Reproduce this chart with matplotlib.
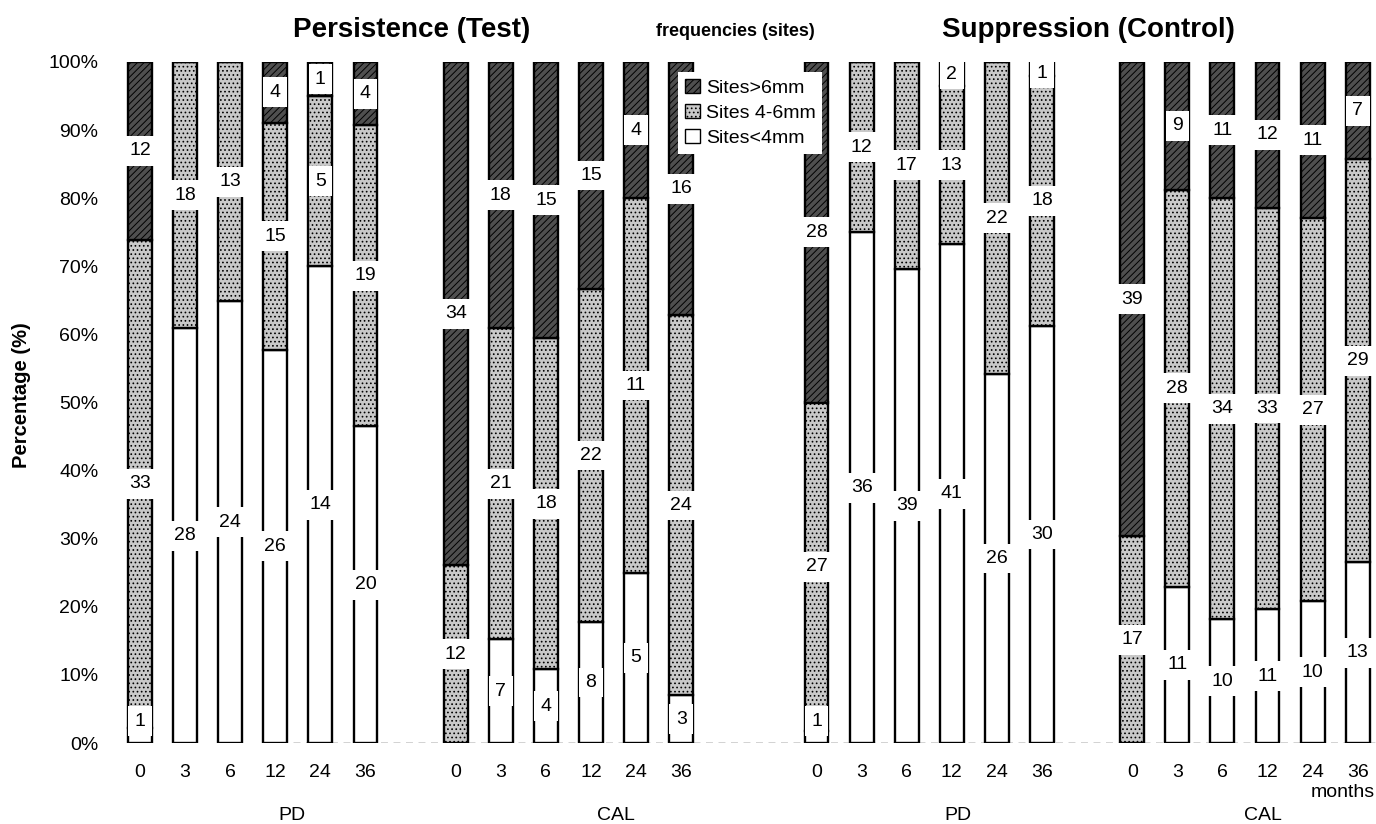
import matplotlib
matplotlib.use("Agg")
import matplotlib.pyplot as plt
import matplotlib.transforms as mtransforms
from matplotlib.patches import Patch
import numpy as np

# ---- data: number of sites per pocket-depth class at each visit (months) ----
months = ["0", "3", "6", "12", "24", "36"]
group_names = ["PD", "CAL", "PD", "CAL"]

persist_pd_lt4 = [1, 28, 24, 26, 14, 20]
persist_pd_4to6 = [33, 18, 13, 15, 5, 19]
persist_pd_gt6 = [12, 0, 0, 4, 1, 4]

persist_cal_lt4 = [0, 7, 4, 8, 5, 3]
persist_cal_4to6 = [12, 21, 18, 22, 11, 24]
persist_cal_gt6 = [34, 18, 15, 15, 4, 16]

supp_pd_lt4 = [1, 36, 39, 41, 26, 30]
supp_pd_4to6 = [27, 12, 17, 13, 22, 18]
supp_pd_gt6 = [28, 0, 0, 2, 0, 1]

supp_cal_lt4 = [0, 11, 10, 11, 10, 13]
supp_cal_4to6 = [17, 28, 34, 33, 27, 29]
supp_cal_gt6 = [39, 9, 11, 12, 11, 7]

panels = [
    (persist_pd_lt4, persist_pd_4to6, persist_pd_gt6),
    (persist_cal_lt4, persist_cal_4to6, persist_cal_gt6),
    (supp_pd_lt4, supp_pd_4to6, supp_pd_gt6),
    (supp_cal_lt4, supp_cal_4to6, supp_cal_gt6),
]

# ---- layout / style ----
plt.rcParams["font.family"] = ["Liberation Sans", "DejaVu Sans"]
plt.rcParams["hatch.linewidth"] = 0.7

W, H = 1376, 824
unit = 45.1          # pixels per bar slot
x0_px = 140          # pixel position of first bar
group_starts = [0, 7, 15, 22]
group_label_offsets = [3.36, 3.55, 3.13, 2.9]
bar_width = 0.53

fc_lt4 = "white"
fc_mid = "#c9c9c9"
fc_hi = "#4f4f4f"
hatch_mid = "...."
hatch_hi = "/////"

fig = plt.figure(figsize=(W / 100, H / 100), dpi=100)
ax_left_px, ax_bottom_px, ax_top_px = 115, 743, 62
ax = fig.add_axes([ax_left_px / W, (H - ax_bottom_px) / H,
                   (W - ax_left_px) / W, (ax_bottom_px - ax_top_px) / H])
ax.set_xlim((ax_left_px - x0_px) / unit, (W - x0_px) / unit)
ax.set_ylim(0, 100)

# faint dashed baseline
ax.hlines(0, 3.4, 27.4, colors="#222222", linewidth=1.0,
          linestyles=(0, (5, 4)), zorder=0)

tick_pos, tick_lab = [], []
for start, (lt4, mid, hi) in zip(group_starts, panels):
    lt4 = np.array(lt4, float)
    mid = np.array(mid, float)
    hi = np.array(hi, float)
    total = lt4 + mid + hi
    p_lt4 = lt4 / total * 100
    p_mid = mid / total * 100
    p_hi = hi / total * 100
    x = start + np.arange(len(months))

    ax.bar(x, p_lt4, bar_width, facecolor=fc_lt4, edgecolor="black",
           linewidth=1.7, zorder=2)
    ax.bar(x, p_mid, bar_width, bottom=p_lt4, facecolor=fc_mid,
           edgecolor="black", hatch=hatch_mid, linewidth=1.7, zorder=2)
    ax.bar(x, p_hi, bar_width, bottom=p_lt4 + p_mid, facecolor=fc_hi,
           edgecolor="black", hatch=hatch_hi, linewidth=1.7, zorder=2)

    # count labels centred on each segment
    for counts, pcts, base in [
        (lt4, p_lt4, np.zeros_like(p_lt4)),
        (mid, p_mid, p_lt4),
        (hi, p_hi, p_lt4 + p_mid),
    ]:
        for xx, c, p, b in zip(x, counts, pcts, base):
            if c <= 0:
                continue
            y = min(max(b + p / 2, 3.2), 98.3)
            ax.text(xx, y, f"{int(c)}", ha="center", va="center",
                    fontsize=14, zorder=5,
                    bbox=dict(boxstyle="square,pad=0.33", fc="white",
                              ec="none"))

    tick_pos.extend(x)
    tick_lab.extend(months)

ax.set_xticks(tick_pos)
ax.set_xticklabels(tick_lab)
ax.set_yticks(np.arange(0, 101, 10))
ax.set_yticklabels([f"{v}%" for v in range(0, 101, 10)])
ax.tick_params(axis="x", length=0, pad=15, labelsize=14)
ax.tick_params(axis="y", length=0, pad=12, labelsize=14)
for s in ax.spines.values():
    s.set_visible(False)

# group labels under the month ticks
trans = mtransforms.blended_transform_factory(ax.transData, ax.transAxes)
for start, off, name in zip(group_starts, group_label_offsets, group_names):
    ax.text(start + off, -0.106, name, transform=trans, ha="center",
            va="center", fontsize=14)
ax.text(26.67, -0.072, "months", transform=trans, ha="center",
        va="center", fontsize=14)

# titles and axis label
fig.text(412 / W, 1 - 30 / H, "Persistence (Test)", ha="center",
         va="center", fontsize=20, fontweight="bold")
fig.text(1088 / W, 1 - 30 / H, "Suppression (Control)", ha="center",
         va="center", fontsize=20, fontweight="bold")
fig.text(735 / W, 1 - 32 / H, "frequencies (sites)", ha="center",
         va="center", fontsize=13, fontweight="bold")
fig.text(22 / W, 1 - 395 / H, "Percentage (%)", ha="center", va="center",
         rotation=90, fontsize=14.5, fontweight="bold")

handles = [
    Patch(facecolor=fc_hi, edgecolor="black", hatch=hatch_hi,
          label="Sites>6mm"),
    Patch(facecolor=fc_mid, edgecolor="black", hatch=hatch_mid,
          label="Sites 4-6mm"),
    Patch(facecolor=fc_lt4, edgecolor="black", label="Sites<4mm"),
]
fig.legend(handles=handles, loc="upper left",
           bbox_to_anchor=(668 / W, 1 - 62 / H), frameon=True,
           fancybox=False, edgecolor="none", facecolor="white",
           framealpha=1, fontsize=14, handlelength=0.8, handleheight=0.8,
           handletextpad=0.3, labelspacing=0.35, borderpad=0.35)

fig.savefig("out.png", dpi=100)
